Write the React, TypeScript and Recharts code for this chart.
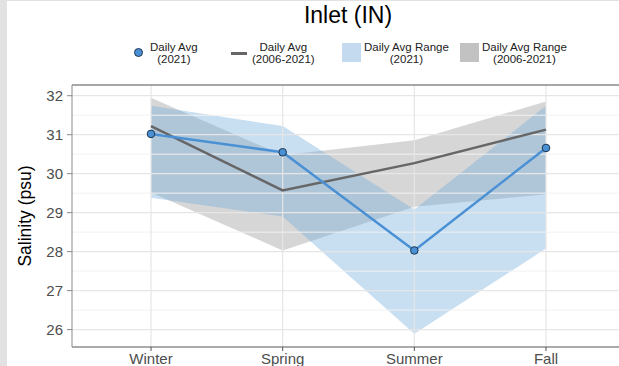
import React from 'react';
import { ComposedChart, Area, Line, XAxis, YAxis, ReferenceLine } from 'recharts';

const seasons = ['Winter', 'Spring', 'Summer', 'Fall'];
const avg2021 = [31.02, 30.55, 28.03, 30.66];
const avgHist = [31.22, 29.57, 30.27, 31.13];
const range2021Low = [29.38, 28.9, 25.89, 28.08];
const range2021High = [31.74, 31.22, 29.08, 31.74];
const rangeHistLow = [29.52, 28.03, 29.15, 29.47];
const rangeHistHigh = [31.95, 30.47, 30.86, 31.85];
const yTicks = [26, 27, 28, 29, 30, 31, 32];
const yMinor = [25.5, 26.5, 27.5, 28.5, 29.5, 30.5, 31.5];

const data = seasons.map((season, i) => ({
  x: i + 1,
  season,
  avg2021: avg2021[i],
  avgHist: avgHist[i],
  r2021: [range2021Low[i], range2021High[i]],
  rHist: [rangeHistLow[i], rangeHistHigh[i]],
}));

const FONT = '"Liberation Sans", Arial, sans-serif';
const BLUE = '#4a90d4';
const TOP = 32.275;

const legendItems = [
  { kind: 'dot', label: ['Daily Avg', '(2021)'], left: 132, textLeft: 150 },
  { kind: 'line', label: ['Daily Avg', '(2006-2021)'], left: 231, textLeft: 252 },
  { kind: 'box', label: ['Daily Avg Range', '(2021)'], left: 342, textLeft: 364, color: '#c4dbef' },
  { kind: 'box', label: ['Daily Avg Range', '(2006-2021)'], left: 460, textLeft: 482, color: '#c2c2c2' },
];

const YLabel = (props: any) => {
  const vb = props.viewBox;
  const cy = vb.y + vb.height / 2;
  return (
    <text x={25} y={cy} transform={`rotate(-90, 25, ${cy})`} textAnchor="middle" dominantBaseline="central"
      fontSize={17.5} fill="#000" fontFamily={FONT}>
      Salinity (psu)
    </text>
  );
};

const App: React.FC = () => {
  return (
    <div style={{ position: 'absolute', left: 0, top: 0, width: 619, height: 366, overflow: 'hidden', background: '#fff', fontFamily: FONT }}>
      <div style={{ position: 'absolute', left: 0, top: 0, width: 7, height: 366, background: '#e2e2e2' }} />
      <div style={{ position: 'absolute', left: 0, top: 0, width: 619, height: 1, background: '#e2e2e2' }} />
      <div style={{ position: 'absolute', left: 248, top: 2, width: 200, textAlign: 'center', fontSize: 23, color: '#000' }}>
        Inlet (IN)
      </div>
      {legendItems.map((item) => (
        <div key={item.label.join()} style={{ position: 'absolute', left: item.left, top: 41 }}>
          {item.kind === 'dot' && (
            <div style={{ position: 'absolute', left: 2, top: 7, width: 7, height: 7, borderRadius: '50%', background: BLUE, border: '1px solid #1d3550' }} />
          )}
          {item.kind === 'line' && (
            <div style={{ position: 'absolute', left: 0, top: 11, width: 16, height: 2.5, background: '#666' }} />
          )}
          {item.kind === 'box' && (
            <div style={{ position: 'absolute', left: 0, top: 2, width: 19, height: 19, background: item.color }} />
          )}
          <div style={{ position: 'absolute', left: item.textLeft - item.left, top: 0, fontSize: 11.5, lineHeight: '12px', color: '#222', textAlign: 'center', whiteSpace: 'nowrap' }}>
            {item.label[0]}
            <br />
            {item.label[1]}
          </div>
        </div>
      ))}
      <div style={{ position: 'absolute', left: 0, top: 0 }}>
        <ComposedChart width={640} height={366} data={data} margin={{ top: 85, right: 15, bottom: 0, left: 8 }}>
          {yMinor.map((v) => (
            <ReferenceLine key={'m' + v} y={v} stroke="#f2f2f2" strokeWidth={1} ifOverflow="hidden" />
          ))}
          {yTicks.map((v) => (
            <ReferenceLine key={'M' + v} y={v} stroke="#e6e6e6" strokeWidth={1.2} />
          ))}
          {data.map((d) => (
            <ReferenceLine key={'v' + d.x} x={d.x} stroke="#e6e6e6" strokeWidth={1.2} />
          ))}
          <ReferenceLine y={TOP} stroke="#8a8a8a" strokeWidth={1.5} />
          <XAxis
            type="number"
            dataKey="x"
            domain={[0.4, 4.6]}
            ticks={[1, 2, 3, 4]}
            tickFormatter={(v: number) => seasons[v - 1]}
            height={19}
            tickSize={4}
            tickMargin={2}
            allowDataOverflow
            stroke="#555"
            tick={{ fill: '#4d4d4d', fontSize: 15, fontFamily: FONT }}
          />
          <YAxis
            type="number"
            domain={[25.553, TOP]}
            ticks={yTicks}
            width={64}
            tickSize={5}
            tickMargin={4}
            allowDataOverflow
            stroke="#8a8a8a"
            tick={{ fill: '#4d4d4d', fontSize: 15, fontFamily: FONT }}
            label={<YLabel />}
          />
          <Area type="linear" dataKey="rHist" fill="#999999" fillOpacity={0.4} stroke="none" isAnimationActive={false} />
          <Area type="linear" dataKey="r2021" fill="#76addb" fillOpacity={0.4} stroke="none" isAnimationActive={false} />
          <Line type="linear" dataKey="avgHist" stroke="#666666" strokeWidth={2.5} dot={false} isAnimationActive={false} />
          <Line
            type="linear"
            dataKey="avg2021"
            stroke={BLUE}
            strokeWidth={2.5}
            dot={{ r: 3.8, fill: BLUE, stroke: '#1d3550', strokeWidth: 1 }}
            isAnimationActive={false}
          />
        </ComposedChart>
      </div>
    </div>
  );
};

export default App;
